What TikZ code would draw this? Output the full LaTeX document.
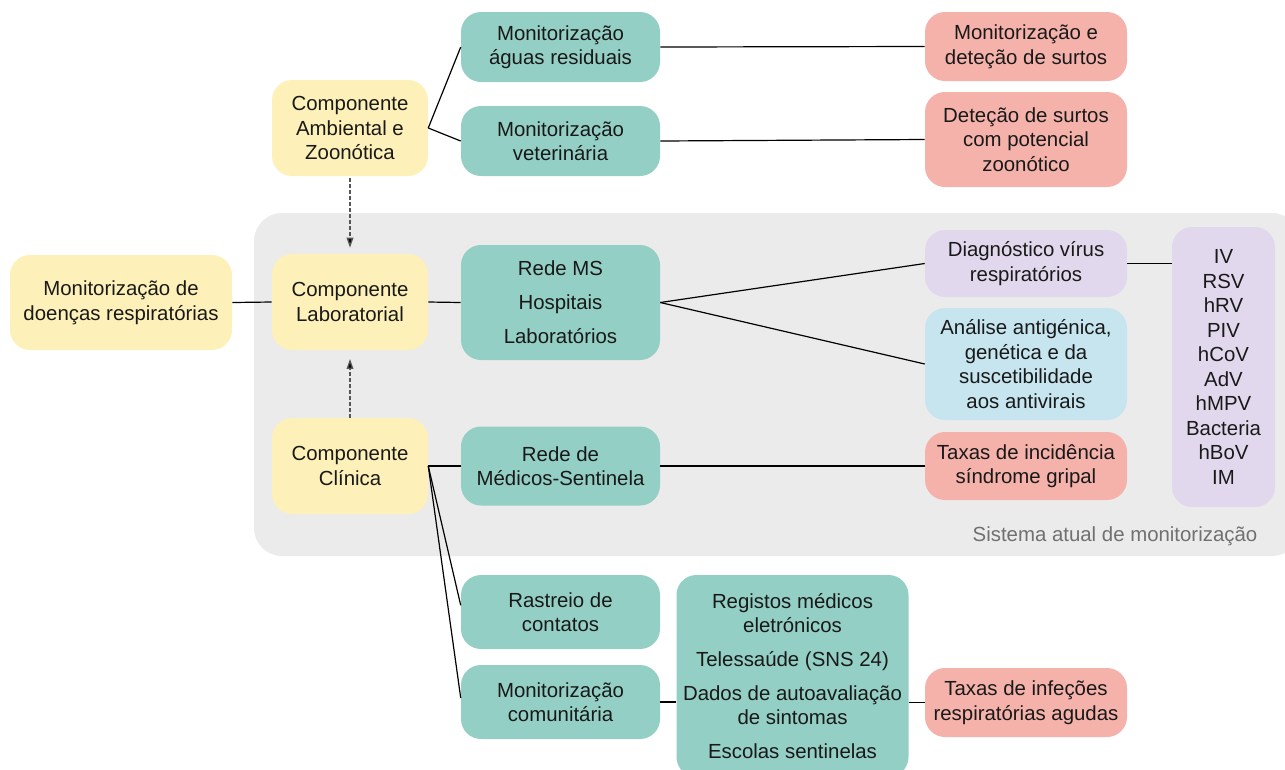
\documentclass[tikz,border=0pt]{standalone}
\usepackage{fontspec}
\setmainfont{Liberation Sans}
\usetikzlibrary{arrows.meta}
\definecolor{cyel}{HTML}{FDF1B9}
\definecolor{cteal}{HTML}{94CFC5}
\definecolor{csal}{HTML}{F4B2AB}
\definecolor{clav}{HTML}{E2D8EE}
\definecolor{cblue}{HTML}{C6E5EF}
\definecolor{cgrey}{HTML}{EBEBEB}
\definecolor{clabel}{HTML}{707070}
\definecolor{cdash}{HTML}{555555}
\begin{document}
\begin{tikzpicture}[x=0.75pt,y=-0.75pt,
  box/.style={rounded corners=15pt, inner sep=0pt, align=center, text=black!90,
    font=\fontsize{15.3}{18.4}\selectfont},
  yel/.style={box, fill=cyel},
  teal/.style={box, fill=cteal, minimum width=149.25pt},
  sal/.style={box, fill=csal, minimum width=151.5pt},
  lav/.style={box, fill=clav},
  lblue/.style={box, fill=cblue, minimum width=151.5pt},
  link/.style={line width=0.9pt, black},
  dep/.style={line width=1pt, cdash, dash pattern=on 2.5pt off 2pt,
    -{Triangle[length=7.5pt,width=5pt,fill=black]}}
]
\useasboundingbox (0,0) rectangle (1285,769);

% background region
\fill[cgrey, rounded corners=21pt] (254,213) rectangle (1300,556);
\node[anchor=base east, text=clabel, font=\fontsize{15.3}{18.4}\selectfont] (sys) at (1262,541) {Sistema atual de monitorização};

% yellow components
\node[yel, minimum width=166.5pt, minimum height=71.25pt] (mdr) at (121,302.5) {Monitorização de\\doenças respiratórias};
\node[yel, minimum width=117pt, minimum height=72pt] (amb) at (350,128) {Componente\\Ambiental e\\Zoonótica};
\node[yel, minimum width=117pt, minimum height=72pt] (lab) at (350,302) {Componente\\Laboratorial};
\node[yel, minimum width=117pt, minimum height=72pt] (cli) at (350,466) {Componente\\Clínica};

% teal boxes
\node[teal, minimum height=52.5pt] (agu) at (560.5,47) {Monitorização\\águas residuais};
\node[teal, minimum height=52.5pt] (vet) at (560.5,141) {Monitorização\\veterinária};
\node[teal, minimum height=86.25pt] (rms) at (560.5,302.5) {Rede MS\\[7pt]Hospitais\\[7pt]Laboratórios};
\node[teal, minimum height=59.25pt] (rmsen) at (560.5,466) {Rede de\\Médicos-Sentinela};
\node[teal, minimum height=55.5pt] (ras) at (560.5,612) {Rastreio de\\contatos};
\node[teal, minimum height=55.5pt] (com) at (560.5,702) {Monitorização\\comunitária};
\node[teal, minimum width=174pt, minimum height=151.5pt] (reg) at (792.5,676)
  {Registos médicos\\eletrónicos\\[7pt]Telessaúde (SNS 24)\\[7pt]Dados de autoavaliação\\de sintomas\\[7pt]Escolas sentinelas};

% right-hand boxes
\node[sal, minimum height=51.75pt] (surt) at (1026,46.5) {Monitorização e\\deteção de surtos};
\node[sal, minimum height=71.25pt] (zoo) at (1026,139.5) {Deteção de surtos\\com potencial\\zoonótico};
\node[lav, minimum width=151.5pt, minimum height=50.25pt] (diag) at (1026,263.5) {Diagnóstico vírus\\respiratórios};
\node[lblue, minimum height=84pt] (ana) at (1026,364) {Análise antigénica,\\genética e da\\suscetibilidade\\aos antivirais};
\node[sal, minimum height=51pt] (tinc) at (1026,466) {Taxas de incidência\\síndrome gripal};
\node[sal, minimum height=51.75pt] (tinf) at (1026,702.5) {Taxas de infeções\\respiratórias agudas};
\node[lav, minimum width=77.25pt, minimum height=210pt] (vir) at (1223.5,367)
  {IV\\RSV\\hRV\\PIV\\hCoV\\AdV\\hMPV\\Bacteria\\hBoV\\IM};

% connectors
\draw[link] (mdr.east) -- (lab.west);
\draw[link] (amb.east) -- (agu.west);
\draw[link] (amb.east) -- (vet.west);
\draw[link] (agu.east) -- (surt.west);
\draw[link] (vet.east) -- (zoo.west);
\draw[link] (lab.east) -- (rms.west);
\draw[link] (rms.east) -- (diag.west);
\draw[link] (rms.east) -- (ana.west);
\draw[link] (diag.east) -- (vir.west |- diag.east);
\draw[link] (cli.east) -- (rmsen.west);
\draw[link] (rmsen.east) -- (tinc.west);
\draw[link] (cli.east) -- ([yshift=5pt]ras.west);
\draw[link] (cli.east) -- ([yshift=3pt]com.west);
\draw[link] (com.east) -- (reg.west |- com.east);
\draw[link] (reg.east |- tinf.west) -- (tinf.west);

% dependency arrows
\draw[dep, shorten <=1.5pt, shorten >=4.5pt] (amb.south) -- (lab.north);
\draw[dep, shorten >=6.5pt] (cli.north) -- (lab.south);
\end{tikzpicture}
\end{document}
